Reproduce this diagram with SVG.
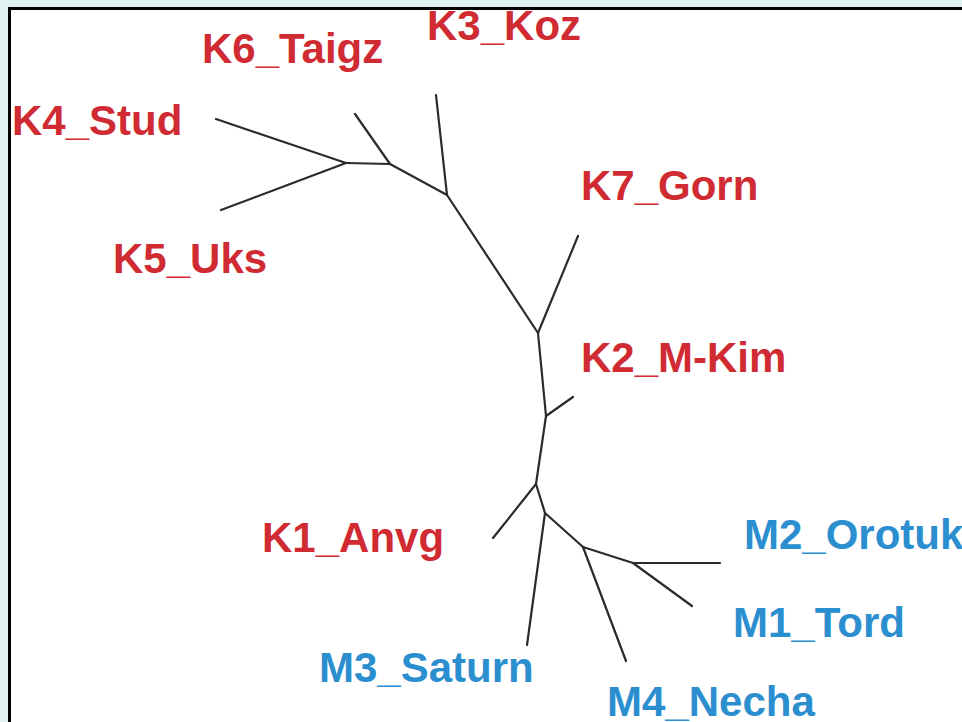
<svg xmlns="http://www.w3.org/2000/svg" width="962" height="722" viewBox="0 0 962 722">
  <style>
    .edge { stroke: #2b2b2b; stroke-width: 2.2; stroke-linecap: round; fill: none; }
    .lbl { font-family: "Liberation Sans", Arial, sans-serif; font-weight: bold; font-size: 42px; }
    .k { fill: #d02a32; }
    .m { fill: #2b8ecf; }
  </style>

  <!-- page background and frame -->
  <rect x="0" y="0" width="962" height="722" fill="#e0f1f1"/>
  <rect x="9.5" y="8.5" width="960" height="720" fill="#ffffff" stroke="#000000" stroke-width="3"/>

  <!-- unrooted tree branches -->
  <g id="connectors">
    <line class="edge" x1="216" y1="119" x2="346" y2="163"/>
    <line class="edge" x1="221" y1="210" x2="346" y2="163"/>
    <line class="edge" x1="346" y1="163" x2="390" y2="164"/>
    <line class="edge" x1="355" y1="114" x2="390" y2="164"/>
    <line class="edge" x1="390" y1="164" x2="447" y2="195"/>
    <line class="edge" x1="436" y1="95" x2="447" y2="195"/>
    <line class="edge" x1="447" y1="195" x2="538" y2="333"/>
    <line class="edge" x1="578" y1="236" x2="538" y2="333"/>
    <line class="edge" x1="538" y1="333" x2="546" y2="416"/>
    <line class="edge" x1="573" y1="397" x2="546" y2="416"/>
    <line class="edge" x1="546" y1="416" x2="536" y2="484"/>
    <line class="edge" x1="493" y1="538" x2="536" y2="484"/>
    <line class="edge" x1="536" y1="484" x2="545" y2="513"/>
    <line class="edge" x1="545" y1="513" x2="527" y2="645"/>
    <line class="edge" x1="545" y1="513" x2="583" y2="547"/>
    <line class="edge" x1="583" y1="547" x2="626" y2="661"/>
    <line class="edge" x1="583" y1="547" x2="633" y2="563"/>
    <line class="edge" x1="633" y1="563" x2="720" y2="563"/>
    <line class="edge" x1="633" y1="563" x2="692" y2="606"/>
  </g>

  <!-- leaf labels -->
  <g id="K3_Koz"><text class="lbl k" x="427" y="40">K3_Koz</text></g>
  <g id="K6_Taigz"><text class="lbl k" x="202" y="63">K6_Taigz</text></g>
  <g id="K4_Stud"><text class="lbl k" x="12" y="135">K4_Stud</text></g>
  <g id="K5_Uks"><text class="lbl k" x="113" y="273">K5_Uks</text></g>
  <g id="K7_Gorn"><text class="lbl k" x="581" y="200">K7_Gorn</text></g>
  <g id="K2_M-Kim"><text class="lbl k" x="581" y="372">K2_M-Kim</text></g>
  <g id="K1_Anvg"><text class="lbl k" x="262" y="552">K1_Anvg</text></g>
  <g id="M2_Orotuk"><text class="lbl m" x="744" y="549">M2_Orotuk</text></g>
  <g id="M1_Tord"><text class="lbl m" x="733" y="637">M1_Tord</text></g>
  <g id="M3_Saturn"><text class="lbl m" x="319" y="682">M3_Saturn</text></g>
  <g id="M4_Necha"><text class="lbl m" x="607" y="716">M4_Necha</text></g>
</svg>
